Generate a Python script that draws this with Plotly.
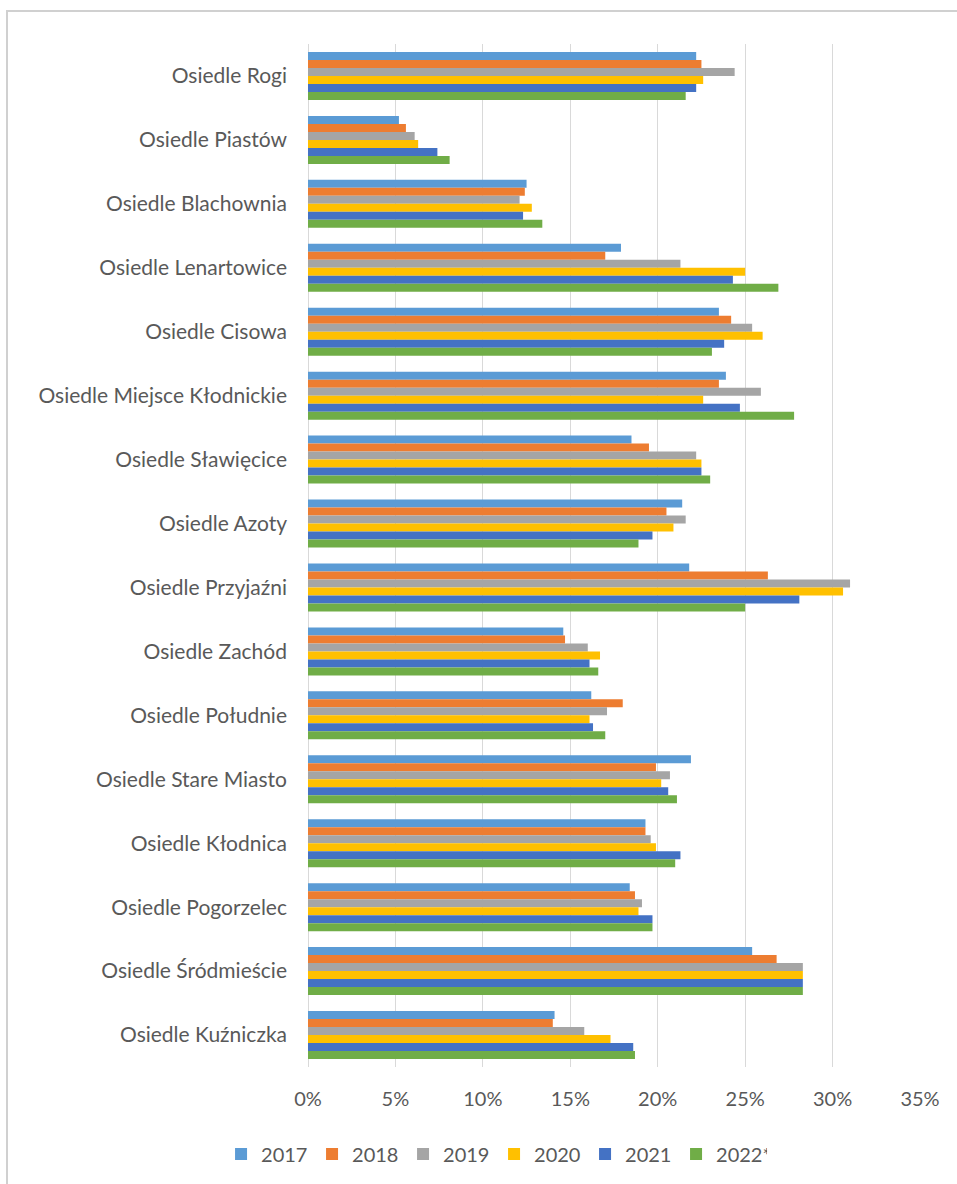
import plotly.graph_objects as go

categories = [
    "Osiedle Rogi", "Osiedle Piastów", "Osiedle Blachownia", "Osiedle Lenartowice",
    "Osiedle Cisowa", "Osiedle Miejsce Kłodnickie", "Osiedle Sławięcice", "Osiedle Azoty",
    "Osiedle Przyjaźni", "Osiedle Zachód", "Osiedle Południe", "Osiedle Stare Miasto",
    "Osiedle Kłodnica", "Osiedle Pogorzelec", "Osiedle Śródmieście", "Osiedle Kuźniczka",
]

v2017 = [22.2, 5.2, 12.5, 17.9, 23.5, 23.9, 18.5, 21.4, 21.8, 14.6, 16.2, 21.9, 19.3, 18.4, 25.4, 14.1]
v2018 = [22.5, 5.6, 12.4, 17.0, 24.2, 23.5, 19.5, 20.5, 26.3, 14.7, 18.0, 19.9, 19.3, 18.7, 26.8, 14.0]
v2019 = [24.4, 6.1, 12.1, 21.3, 25.4, 25.9, 22.2, 21.6, 31.0, 16.0, 17.1, 20.7, 19.6, 19.1, 28.3, 15.8]
v2020 = [22.6, 6.3, 12.8, 25.0, 26.0, 22.6, 22.5, 20.9, 30.6, 16.7, 16.1, 20.2, 19.9, 18.9, 28.3, 17.3]
v2021 = [22.2, 7.4, 12.3, 24.3, 23.8, 24.7, 22.5, 19.7, 28.1, 16.1, 16.3, 20.6, 21.3, 19.7, 28.3, 18.6]
v2022 = [21.6, 8.1, 13.4, 26.9, 23.1, 27.8, 23.0, 18.9, 25.0, 16.6, 17.0, 21.1, 21.0, 19.7, 28.3, 18.7]

series_names = ["2017", "2018", "2019", "2020", "2021", "2022*"]
series_values = [v2017, v2018, v2019, v2020, v2021, v2022]
colors = ["#5B9BD5", "#ED7D31", "#A5A5A5", "#FFC000", "#4472C4", "#70AD47"]

tick_vals = [0, 5, 10, 15, 20, 25, 30, 35]
tick_text = ["0%", "5%", "10%", "15%", "20%", "25%", "30%", "35%"]

fig = go.Figure()
for name, vals, col in zip(series_names, series_values, colors):
    fig.add_trace(go.Bar(
        y=categories, x=vals, name=name, orientation="h",
        marker=dict(color=col, line=dict(width=0)),
    ))

FONT = "Lato"
fig.update_layout(
    width=957, height=1184,
    barmode="group", bargap=0.25, bargroupgap=0,
    plot_bgcolor="white", paper_bgcolor="white",
    margin=dict(l=308, r=37, t=44, b=116),
    font=dict(family=FONT, size=20, color="#595959"),
    xaxis=dict(
        range=[0, 35], tickvals=tick_vals, ticktext=tick_text,
        showgrid=True, gridcolor="#D9D9D9", gridwidth=1,
        zeroline=True, zerolinecolor="#D9D9D9", zerolinewidth=1,
        showline=False, ticks="", ticklabelstandoff=18,
        tickfont=dict(family=FONT, size=20, color="#595959"),
    ),
    yaxis=dict(
        autorange="reversed", showgrid=False, showline=False, ticks="",
        ticklabelstandoff=20,
        tickfont=dict(family=FONT, size=21, color="#595959"),
    ),
    legend=dict(
        orientation="h", x=0.304, xanchor="center", y=-0.084, yanchor="middle",
        font=dict(family=FONT, size=20, color="#595959"),
        traceorder="normal", entrywidth=46, itemwidth=30,
    ),
    shapes=[dict(
        type="rect", xref="paper", yref="paper",
        x0=(7 - 308) / 612, x1=(965 - 308) / 612,
        y0=(1068 - 1195) / 1024, y1=(1068 - 11) / 1024,
        line=dict(color="#D0D0D0", width=2), fillcolor="rgba(0,0,0,0)", layer="below",
    )],
)

fig.write_html("out.html", post_script="document.body.style.margin='0';",
               config={"displayModeBar": False})
